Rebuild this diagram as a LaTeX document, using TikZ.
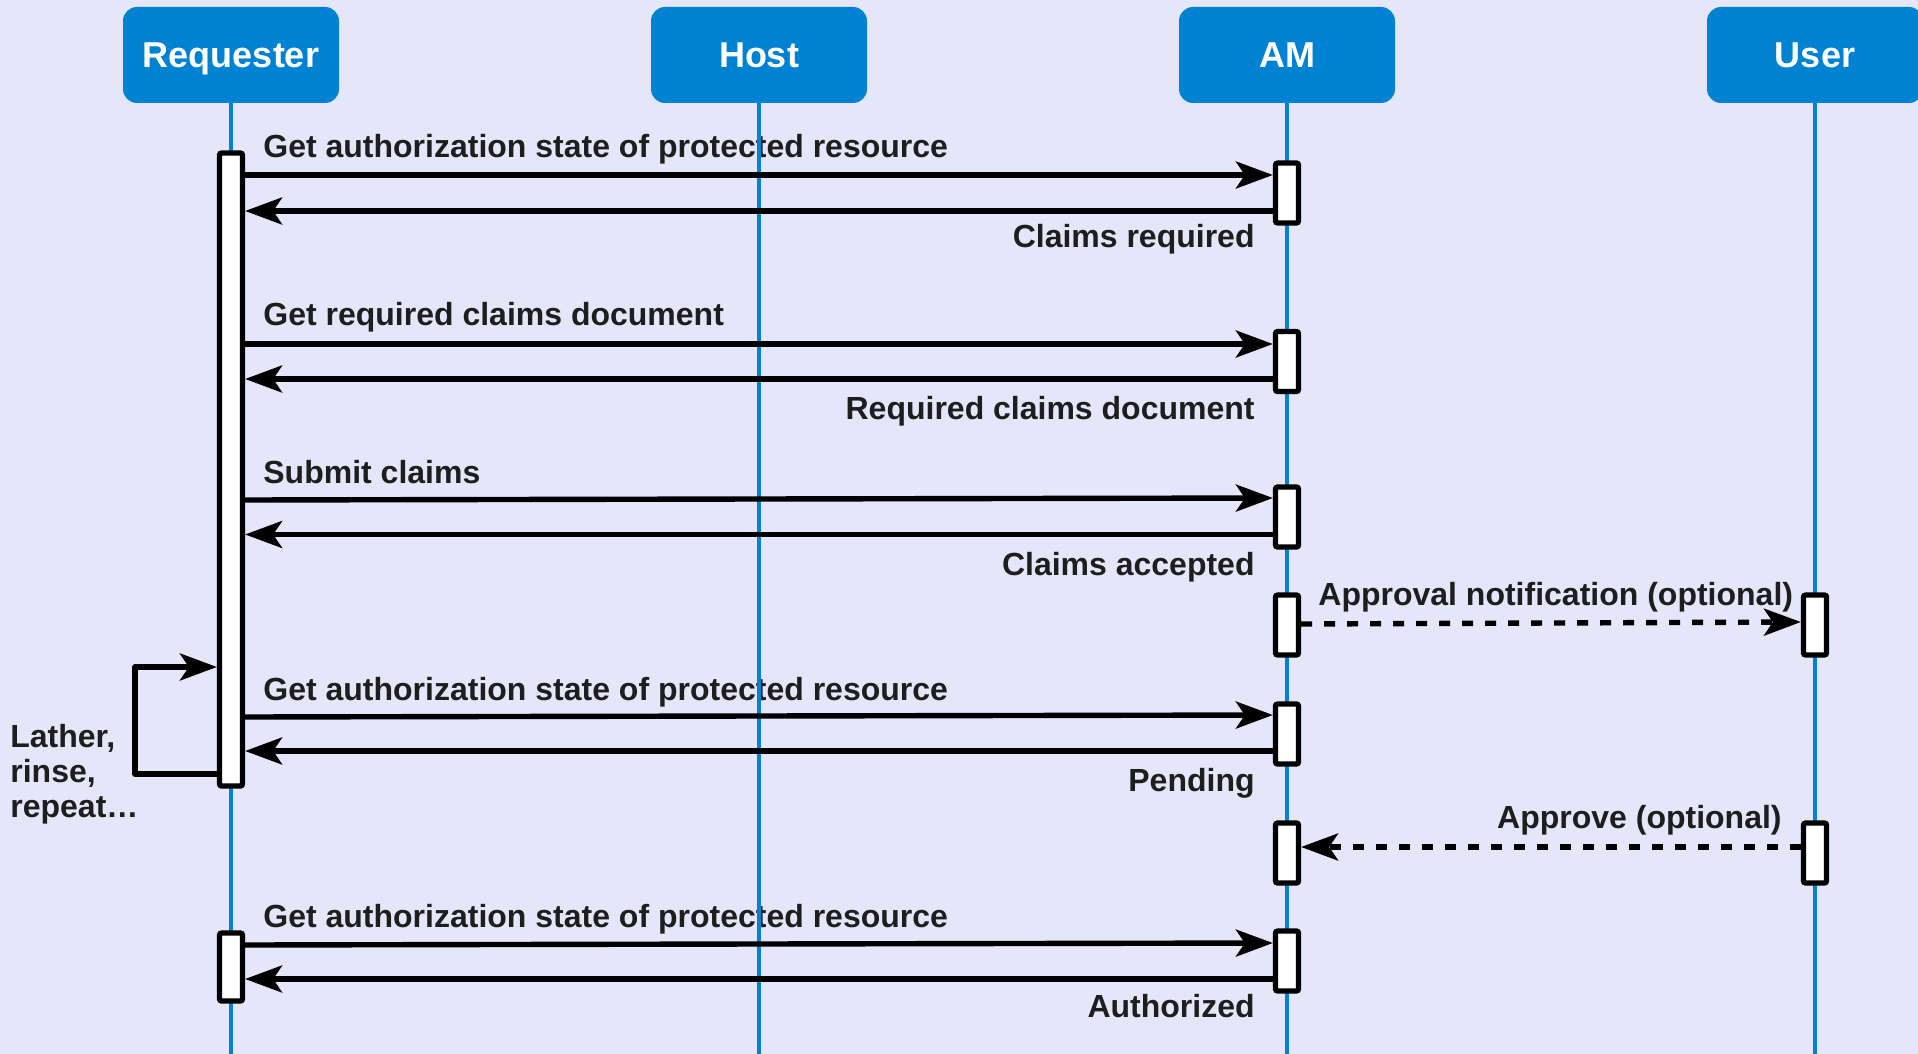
\documentclass[tikz,border=0pt]{standalone}
\usepackage{fontspec}
\setmainfont{Liberation Sans}
\usetikzlibrary{arrows.meta}
\definecolor{bg}{RGB}{230,230,250}
\definecolor{hdr}{RGB}{0,130,210}
\definecolor{ink}{RGB}{30,30,30}
\begin{document}
\begin{tikzpicture}[x=0.5pt,y=-0.5pt,
  actor/.style={fill=hdr, rounded corners=7pt, minimum width=108pt, minimum height=48pt,
    text=white, font=\bfseries\fontsize{18}{20}\selectfont, inner sep=0,
    text height=12.9pt, text depth=0pt},
  life/.style={draw=hdr, line width=1.8pt},
  act/.style={draw=black, fill=white, line width=2.6pt, minimum width=11.5pt, inner sep=0,
    rounded corners=1pt},
  msg/.style={draw=black, line width=2.7pt, line join=round,
    -{Stealth[length=18.5pt,width=13.5pt,inset=4.5pt]}},
  opt/.style={msg, dash pattern=on 5.5pt off 6pt},
  lbl/.style={text=ink, font=\bfseries\fontsize{16}{17.5}\selectfont, inner sep=0},
]
\fill[bg] (0,0) rectangle (1918,1054);
\useasboundingbox (0,0) rectangle (1918,1054);
\coordinate (bottom) at (0,1054);
\coordinate (loopx) at (135,0);

% participants
\node[actor] (hReq)  at (231,55)  {Requester};
\node[actor] (hHost) at (759,55)  {Host};
\node[actor] (hAM)   at (1287,55) {AM};
\node[actor] (hUser) at (1815,55) {User};

% message labels
\node[lbl, anchor=base west] (t1)  at (263,157)  {Get authorization state of protected resource};
\node[lbl, anchor=base east] (t2)  at (1255,248) {Claims required};
\node[lbl, anchor=base west] (t3)  at (263,325)  {Get required claims document};
\node[lbl, anchor=base east] (t4)  at (1255,419) {Required claims document};
\node[lbl, anchor=base west] (t5)  at (263,483)  {Submit claims};
\node[lbl, anchor=base east] (t6)  at (1255,575) {Claims accepted};
\node[lbl, anchor=base west] (t7)  at (1318,605) {Approval notification (optional)};
\node[lbl, anchor=base west] (t8)  at (263,700)  {Get authorization state of protected resource};
\node[lbl, anchor=base east] (t9)  at (1255,791) {Pending};
\node[lbl, anchor=base east] (t10) at (1782,828) {Approve (optional)};
\node[lbl, anchor=base west] (t11) at (263,927)  {Get authorization state of protected resource};
\node[lbl, anchor=base east] (t12) at (1255,1017) {Authorized};
\node[lbl, anchor=base west, align=left] (t13) at (10,817) {Lather,\\rinse,\\repeat…};

% lifelines
\foreach \h in {hReq,hHost,hAM,hUser}
  \draw[life] (\h.south) -- (\h.south |- bottom);

% activation bars
\node[act, minimum height=316.5pt] (r1) at (231,469.5) {};
\node[act, minimum height=34pt]    (r2) at (231,967) {};
\node[act, minimum height=30pt] (a1) at (1287,193) {};
\node[act, minimum height=30pt] (a2) at (1287,361.5) {};
\node[act, minimum height=30pt] (a3) at (1287,517) {};
\node[act, minimum height=30pt] (a4) at (1287,625) {};
\node[act, minimum height=30pt] (a5) at (1287,734) {};
\node[act, minimum height=30pt] (a6) at (1287,853) {};
\node[act, minimum height=30pt] (a7) at (1287,961) {};
\node[act, minimum height=30pt] (u4) at (1815,625) {};
\node[act, minimum height=30pt] (u6) at (1815,853) {};

% messages
\draw[msg] (r1.east |- 0,175) -- (a1.west |- 0,175);
\draw[msg] (a1.west |- 0,211) -- (r1.east |- 0,211);
\draw[msg] (r1.east |- 0,344) -- (a2.west |- 0,344);
\draw[msg] (a2.west |- 0,379) -- (r1.east |- 0,379);
\draw[msg] (r1.east |- 0,500) -- (a3.west |- 0,498);
\draw[msg] (a3.west |- 0,534.5) -- (r1.east |- 0,534.5);
\draw[opt] (a4.east |- 0,624) -- (u4.west |- 0,622);
\draw[msg] (r1.east |- 0,717) -- (a5.west |- 0,715);
\draw[msg] (a5.west |- 0,751) -- (r1.east |- 0,751);
\draw[opt] (u6.west |- 0,847) -- (a6.east |- 0,847);
\draw[msg] (r2.east |- 0,945) -- (a7.west |- 0,943);
\draw[msg] (a7.west |- 0,979) -- (r2.east |- 0,979);

% repeat loop
\draw[msg] (r1.west |- 0,774) -- (loopx |- 0,774) -- (loopx |- 0,667) -- (r1.west |- 0,667);
\end{tikzpicture}
\end{document}
